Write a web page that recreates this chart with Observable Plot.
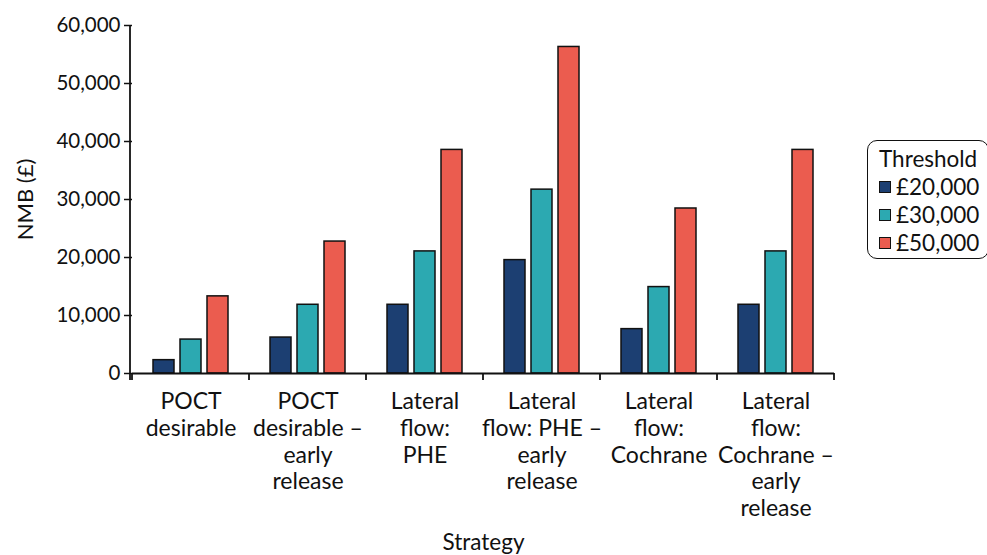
<!DOCTYPE html>
<html><head><meta charset="utf-8">
<script src="https://cdn.jsdelivr.net/npm/d3@7"></script>
<script src="https://cdn.jsdelivr.net/npm/@observablehq/plot@0.6"></script>
<style>
body{margin:0;background:#fff;font-family:Lato,sans-serif;}
#wrap{position:relative;width:987px;height:555px;overflow:hidden;}
#legend{position:absolute;left:867px;top:140px;width:122px;height:119px;border:1.6px solid #111;border-radius:10px;box-sizing:border-box;padding:4px 0 0 11px;font-size:22.5px;color:#111;line-height:28px}
#legend .row{display:flex;align-items:center}
#legend .sw{width:10px;height:10px;border:1.5px solid #111;margin-right:5px}
</style></head><body><div id="wrap"><div id="legend"></div></div>
<script>
const strategies = ["POCT desirable","POCT desirable – early release","Lateral flow: PHE","Lateral flow: PHE – early release","Lateral flow: Cochrane","Lateral flow: Cochrane – early release"];
const tickLabels = ["POCT\ndesirable","POCT\ndesirable –\nearly\nrelease","Lateral\nflow:\nPHE","Lateral\nflow: PHE –\nearly\nrelease","Lateral\nflow:\nCochrane","Lateral\nflow:\nCochrane –\nearly\nrelease"];
const thresholds = ["£20,000","£30,000","£50,000"];
const nmb20 = [2300, 6200, 11850, 19550, 7650, 11850];
const nmb30 = [5850, 11850, 21050, 31700, 14900, 21050];
const nmb50 = [13300, 22750, 38550, 56300, 28450, 38550];
const colors = ["#1c3f72","#2ca9b1","#eb5c4f"];
const yTicks = [0,10000,20000,30000,40000,50000,60000];

const series = [nmb20, nmb30, nmb50];
const rows = [];
strategies.forEach((s,i)=>thresholds.forEach((t,j)=>rows.push({strategy:s, threshold:t, value:series[j][i]})));

const plot = Plot.plot({
  width:987, height:555,
  marginLeft:130, marginRight:151, marginTop:25, marginBottom:182,
  style:{fontFamily:"Lato, sans-serif", fontSize:"20px", color:"#111", background:"#fff"},
  fx:{domain:strategies, padding:0, axis:null},
  x:{domain:thresholds, paddingInner:0.24, paddingOuter:0.76, axis:null},
  y:{domain:[0,60000], axis:null},
  color:{domain:thresholds, range:colors},
  marks:[
    Plot.barY(rows,{fx:"strategy", x:"threshold", y:"value", fill:"threshold", stroke:"#111", strokeWidth:1.5}),
    Plot.axisY({ticks:yTicks, tickFormat:d3.format(","), tickSize:8, tickPadding:4, stroke:"#111", strokeWidth:1.5, fontSize:20.5, label:null}),
    Plot.axisY({ticks:[], label:"NMB (£)", labelAnchor:"center", labelArrow:"none", labelOffset:115, fontSize:22}),
    Plot.ruleY([0], {stroke:"#111", strokeWidth:1.8}),
    Plot.axisFx({anchor:"bottom", tickSize:0, tickPadding:17, tickFormat:d=>tickLabels[strategies.indexOf(d)], lineHeight:1.16, fontSize:23,
      label:null}),
    Plot.axisFx({anchor:"bottom", tickSize:0, ticks:[], label:"Strategy", labelAnchor:"center", labelArrow:"none", labelOffset:176, fontSize:22.5})
  ]
});
document.getElementById("wrap").prepend(plot);

// y-axis domain line and boundary ticks on the x-axis, placed with the plot's own scales
const fx = plot.scale("fx"), y = plot.scale("y");
const svg = d3.select(plot);
const y0 = y.apply(0), yTop = y.apply(60000);
const g = svg.append("g").attr("stroke","#111").attr("stroke-width",1.8);
g.append("line").attr("x1",fx.range[0]).attr("x2",fx.range[0]).attr("y1",yTop).attr("y2",y0+7);
const bounds = strategies.map(s=>fx.apply(s)).concat([fx.apply(strategies[strategies.length-1])+fx.bandwidth]);
bounds.forEach(b=>g.append("line").attr("x1",b).attr("x2",b).attr("y1",y0).attr("y2",y0+7));

// legend
const lg = document.getElementById("legend");
lg.innerHTML = `<div>Threshold</div>` + thresholds.map((t,i)=>`<div class="row"><span class="sw" style="background:${colors[i]}"></span>${t}</div>`).join("");
</script></body></html>
